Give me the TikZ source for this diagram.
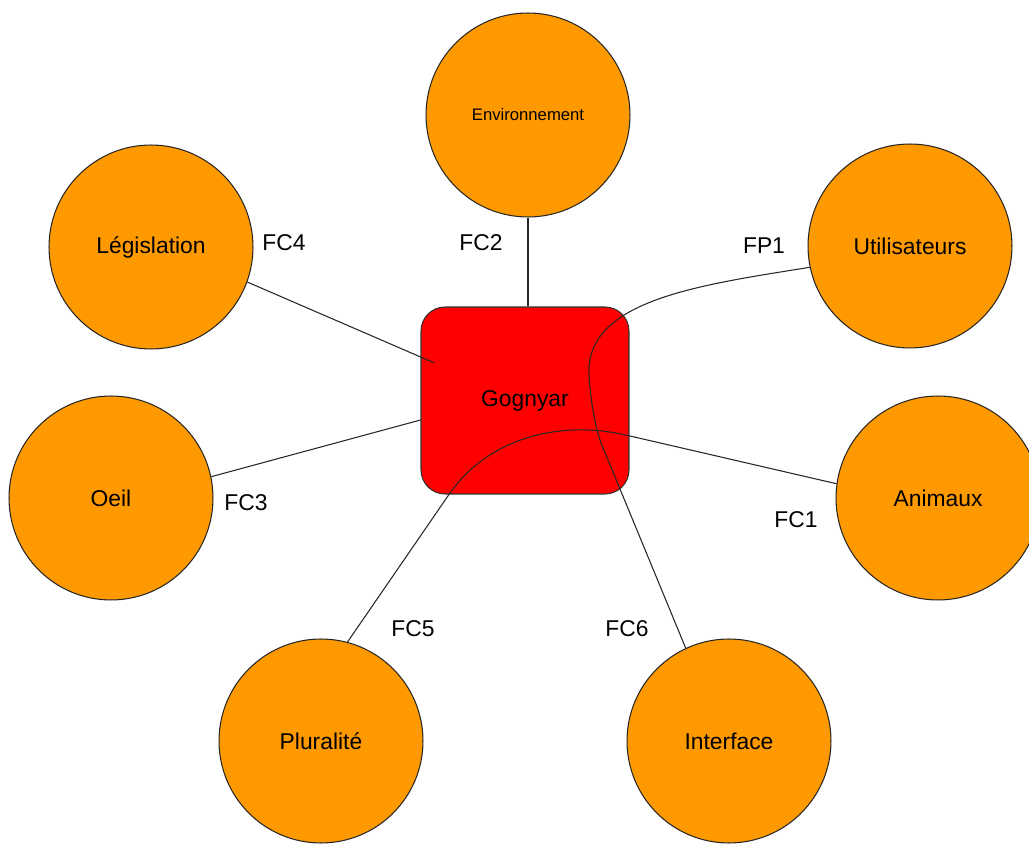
\documentclass[tikz,border=0pt]{standalone}
\usepackage{fontspec}
\setmainfont{Liberation Sans}
\usetikzlibrary{calc}
\definecolor{FnOrange}{RGB}{255,153,0}
\definecolor{FnRed}{RGB}{255,0,0}
\tikzset{
  actor/.style={circle,draw=black!85,fill=FnOrange,line width=0.6pt,minimum size=4.08cm,inner sep=0pt,
    font=\fontsize{13}{15}\selectfont},
  core/.style={rectangle,rounded corners=0.48cm,draw=black!80,fill=FnRed,line width=0.6pt,
    minimum width=4.16cm,minimum height=3.74cm,font=\fontsize{13}{15}\selectfont},
  link/.style={draw=black!85,line width=0.6pt},
}
\tikzset{flab/.style={font=\fontsize{13}{15}\selectfont,inner sep=0pt}}

\begin{document}
\begin{tikzpicture}[x=0.02cm,y=-0.02cm]
\useasboundingbox (0,0) rectangle (1029,844);
\node[core] (box) at (525,400.5) {Gognyar};
\node[actor,font=\fontsize{9.5}{11}\selectfont] (env) at (528,115) {Environnement};
\node[actor] (leg) at (151,247) {Législation};
\node[actor] (util) at (910,246) {Utilisateurs};
\node[actor] (oeil) at (111,498) {Oeil};
\node[actor] (anim) at (938,498) {Animaux};
\node[actor] (plur) at (321,741) {Pluralité};
\node[actor] (inter) at (729,741) {Interface};
\coordinate (leg-in) at ($(box.west)+(14,-37.5)$);
\coordinate (oeil-in) at ($(box.west)+(0,19.5)$);
\draw[link] (env.south) -- (env.south |- box.north);
\draw[link] (leg.-20) -- (leg-in);
\draw[link] (oeil.12) -- (oeil-in);
\draw[link] (util.192) .. controls (700,285) and (585,300) .. (589,375)
  .. controls (591,405) and (595,425) .. (601,443) -- (inter.115);
\draw[link] (anim.172) -- (630,436) .. controls (552,417) and (484,444) .. (450,493) -- (plur.75);
\node[flab] (fc4) at (284,243) {FC4};
\node[flab] (fc2) at (481,243) {FC2};
\node[flab] (fp1) at (764,246) {FP1};
\node[flab] (fc3) at (246,503) {FC3};
\node[flab] (fc1) at (796,520) {FC1};
\node[flab] (fc5) at (413,629) {FC5};
\node[flab] (fc6) at (627,629) {FC6};
\end{tikzpicture}
\end{document}
